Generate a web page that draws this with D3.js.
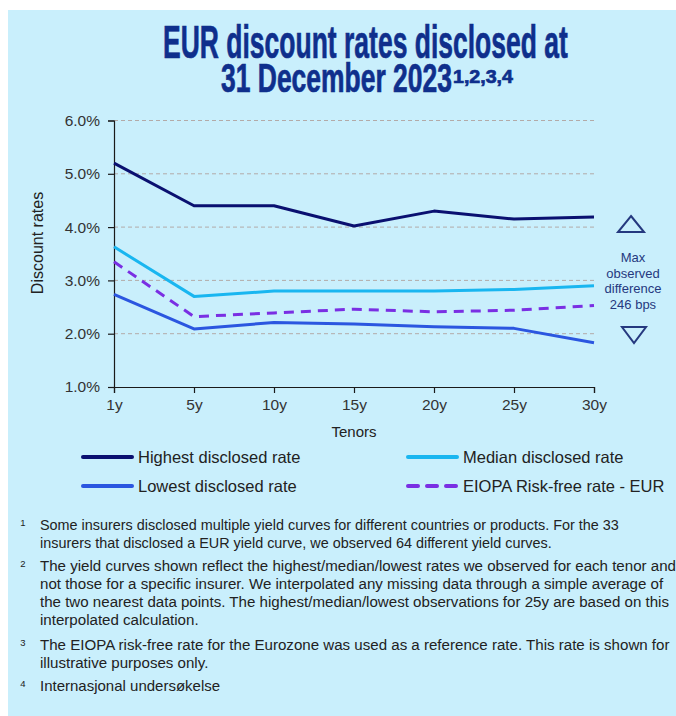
<!DOCTYPE html>
<html>
<head>
<meta charset="utf-8">
<script src="https://cdn.jsdelivr.net/npm/d3@7"></script>
<style>
  html, body { margin: 0; padding: 0; background: #ffffff; }
  svg { display: block; }
  text { font-family: "Liberation Sans", Arial, sans-serif; }
</style>
</head>
<body>
<svg id="chart" width="676" height="716"></svg>
<script>
// Tenors and discount rates (%) per tenor
const tenors = ["1y", "5y", "10y", "15y", "20y", "25y", "30y"];
const highestRate = [5.20, 4.40, 4.40, 4.02, 4.30, 4.15, 4.19];
const medianRate  = [3.63, 2.70, 2.80, 2.80, 2.80, 2.83, 2.90];
const lowestRate  = [2.74, 2.09, 2.21, 2.18, 2.13, 2.10, 1.83];
const eiopaRate   = [3.35, 2.32, 2.39, 2.46, 2.41, 2.44, 2.53];
const yTicks = [1, 2, 3, 4, 5, 6];
const maxDiffBps = 246;

const seriesNames = ["Highest disclosed rate", "Median disclosed rate", "Lowest disclosed rate", "EIOPA Risk-free rate - EUR"];

const footnotes = [
  { n: "1", size: 14.4, lines: [
    "Some insurers disclosed multiple yield curves for different countries or products. For the 33",
    "insurers that disclosed a EUR yield curve, we observed 64 different yield curves."] },
  { n: "2", size: 15.1, lines: [
    "The yield curves shown reflect the highest/median/lowest rates we observed for each tenor and",
    "not those for a specific insurer. We interpolated any missing data through a simple average of",
    "the two nearest data points. The highest/median/lowest observations for 25y are based on this",
    "interpolated calculation."] },
  { n: "3", size: 15.1, lines: [
    "The EIOPA risk-free rate for the Eurozone was used as a reference rate. This rate is shown for",
    "illustrative purposes only."] },
  { n: "4", size: 15.0, lines: ["Internasjonal undersøkelse"] }
];

const svg = d3.select("#chart");

// panel background
svg.append("rect").attr("x", 8).attr("y", 10).attr("width", 668).attr("height", 706).attr("fill", "#c9effc");

// ---- title (tall condensed type, squeezed horizontally to width) ----
const titleColor = "#0f2f8c";
function condensed(txt, x, y, size, width) {
  const g = svg.append("g");
  const t = g.append("text")
    .attr("x", 0).attr("y", 0)
    .attr("font-family", "'Liberation Sans Narrow', 'DejaVu Sans Condensed', sans-serif")
    .attr("font-weight", "bold")
    .attr("font-size", size)
    .attr("fill", titleColor)
    .attr("stroke", titleColor).attr("stroke-width", 0.7)
    .text(txt);
  const w = t.node().getComputedTextLength();
  g.attr("transform", `translate(${x},${y}) scale(${width / w},1)`);
  return g;
}
condensed("EUR discount rates disclosed at", 163, 58, 47, 405);
condensed("31 December 2023", 221, 92, 40, 231);
condensed("1,2,3,4", 453, 83, 18, 60);

// ---- plot ----
const x = d3.scalePoint().domain(tenors).range([114, 594]);
const y = d3.scaleLinear().domain([1, 6]).range([387, 120.5]);

// gridlines
svg.append("g").selectAll("line")
  .data(yTicks.filter(d => d > 1))
  .join("line")
  .attr("x1", 114).attr("x2", 594)
  .attr("y1", d => y(d)).attr("y2", d => y(d))
  .attr("stroke", "#b3aaa8").attr("stroke-width", 1)
  .attr("stroke-dasharray", "4,3");

// axes
const yAxis = svg.append("g").attr("transform", "translate(114,0)")
  .call(d3.axisLeft(y).tickValues(yTicks).tickSize(6).tickPadding(8).tickFormat(d => d3.format(".1f")(d) + "%"));
const xAxis = svg.append("g").attr("transform", "translate(0,387)")
  .call(d3.axisBottom(x).tickSize(6).tickPadding(6));
[yAxis, xAxis].forEach(a => {
  a.select(".domain").attr("stroke", "#1a1a1a").attr("stroke-width", 1.2);
  a.selectAll(".tick line").attr("stroke", "#1a1a1a").attr("stroke-width", 1.2);
  a.selectAll(".tick text").attr("fill", "#333").attr("font-size", 15.5)
    .attr("font-family", "'Liberation Sans', Arial, sans-serif");
});

// axis titles
svg.append("text").attr("transform", "translate(43,243) rotate(-90)")
  .attr("text-anchor", "middle").attr("font-size", 16).attr("fill", "#222").text("Discount rates");
svg.append("text").attr("x", 354).attr("y", 437)
  .attr("text-anchor", "middle").attr("font-size", 15).attr("fill", "#222").text("Tenors");

// series lines
const series = [
  { name: seriesNames[0], values: highestRate, color: "#0a1070", dash: null },
  { name: seriesNames[1], values: medianRate,  color: "#19b6f0", dash: null },
  { name: seriesNames[2], values: lowestRate,  color: "#2b56e0", dash: null },
  { name: seriesNames[3], values: eiopaRate,   color: "#7a2fe3", dash: "10,7" }
];
const line = d3.line().x(d => x(d.t)).y(d => y(d.v));
svg.append("g").selectAll("path")
  .data(series)
  .join("path")
  .attr("d", s => line(s.values.map((v, i) => ({ t: tenors[i], v }))))
  .attr("fill", "none")
  .attr("stroke", s => s.color)
  .attr("stroke-width", 3)
  .attr("stroke-linejoin", "round")
  .attr("stroke-dasharray", s => s.dash);

// max observed difference annotation
const annColor = "#25397f";
const ann = svg.append("g");
ann.append("path").attr("d", "M631,216 L644,232 L618,232 Z")
  .attr("fill", "none").attr("stroke", annColor).attr("stroke-width", 2).attr("stroke-linejoin", "miter");
ann.append("path").attr("d", "M622,327 L646,327 L634,343 Z")
  .attr("fill", "none").attr("stroke", annColor).attr("stroke-width", 2).attr("stroke-linejoin", "miter");
ann.append("text").attr("text-anchor", "middle").attr("font-size", 13).attr("fill", annColor)
  .selectAll("tspan")
  .data(["Max", "observed", "difference", maxDiffBps + " bps"])
  .join("tspan")
  .attr("x", 633).attr("y", (d, i) => 262 + i * 15.5)
  .text(d => d);

// ---- legend ----
const legendPos = [[83, 457], [408, 457], [83, 486], [408, 486]];
const lg = svg.append("g").selectAll("g").data(series).join("g")
  .attr("transform", (d, i) => `translate(${legendPos[i][0]},${legendPos[i][1]})`);
lg.append("line").attr("x1", 0).attr("x2", 49).attr("y1", 0).attr("y2", 0)
  .attr("stroke", d => d.color).attr("stroke-width", 4).attr("stroke-linecap", "round")
  .attr("stroke-dasharray", d => d.dash ? "10,9" : null);
lg.append("text").attr("x", 55).attr("y", 6).attr("font-size", 16.5).attr("fill", "#222").text(d => d.name);

// ---- footnotes ----
const fnStart = [530, 571, 650, 691];
const fnLead = 18;
const fg = svg.append("g").selectAll("g").data(footnotes).join("g");
fg.append("text").attr("x", 23).attr("y", (d, i) => fnStart[i] - 4)
  .attr("font-size", 9.5).attr("fill", "#222").attr("text-anchor", "middle").text(d => d.n);
fg.each(function (d, i) {
  d3.select(this).append("text").attr("font-size", d.size).attr("fill", "#222")
    .selectAll("tspan").data(d.lines).join("tspan")
    .attr("x", 40).attr("y", (l, j) => fnStart[i] + j * fnLead)
    .text(l => l);
});
</script>
</body>
</html>
